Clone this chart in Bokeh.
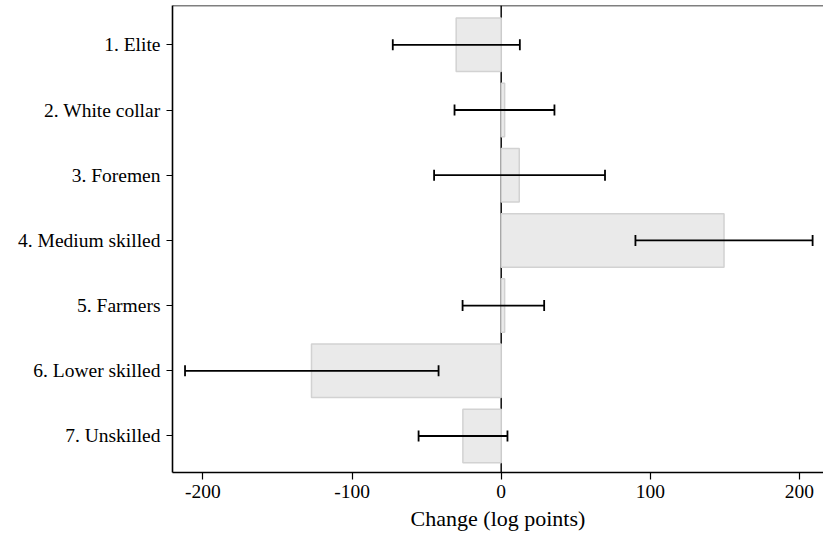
from bokeh.plotting import figure
from bokeh.models import ColumnDataSource, Range1d, FixedTicker, Span, Whisker, TeeHead
from bokeh.embed import file_html
from bokeh.resources import INLINE

categories = ["1. Elite", "2. White collar", "3. Foremen", "4. Medium skilled",
              "5. Farmers", "6. Lower skilled", "7. Unskilled"]
change = [-30.2, 2.3, 12.1, 149.4, 2.3, -127.2, -25.7]
ci_low = [-72.7, -31.3, -45.0, 90.0, -25.9, -212.0, -55.4]
ci_high = [12.5, 35.7, 69.6, 208.8, 28.8, -42.0, 4.2]
x_ticks = [-200, -100, 0, 100, 200]

ypos = list(range(1, len(categories) + 1))
src = ColumnDataSource(dict(y=ypos, change=change, lo=ci_low, hi=ci_high))

FONT = "Liberation Serif"
y_top = 0.397

p = figure(frame_width=651, frame_height=467, output_backend="svg", toolbar_location=None,
           x_range=Range1d(-220.4, 216.1), y_range=Range1d(7.56, y_top),
           min_border_left=172, min_border_right=0, min_border_top=5, min_border_bottom=66)
p.outline_line_color = None
p.background_fill_color = "white"
p.border_fill_color = "white"
p.xgrid.visible = False
p.ygrid.visible = False

p.add_layout(Span(location=0, dimension="height", line_color="#1a1a1a", line_width=1.6, level="underlay"))
p.add_layout(Span(location=y_top, dimension="width", line_color="black", line_width=1.6))

p.hbar(y="y", left=0, right="change", height=0.82, source=src,
       fill_color="#EAEAEA", line_color="#D2D2D2", line_width=1.5)

w = Whisker(source=src, base="y", lower="lo", upper="hi", dimension="width",
            line_color="black", line_width=1.8, level="overlay",
            upper_head=TeeHead(size=11, line_color="black", line_width=1.8),
            lower_head=TeeHead(size=11, line_color="black", line_width=1.8))
p.add_layout(w)

p.xaxis.ticker = FixedTicker(ticks=x_ticks)
p.xaxis.major_label_overrides = {t: str(t) for t in x_ticks}
p.yaxis.ticker = FixedTicker(ticks=ypos)
p.yaxis.major_label_overrides = {i: c for i, c in zip(ypos, categories)}

for ax in (p.xaxis[0], p.yaxis[0]):
    ax.axis_line_color = "black"
    ax.axis_line_width = 1.6
    ax.major_tick_line_color = "black"
    ax.major_tick_line_width = 1.2
    ax.major_tick_in = 0
    ax.minor_tick_line_color = None
    ax.major_label_text_font = FONT
    ax.major_label_text_font_size = "19.5px"
    ax.major_label_text_color = "black"

p.xaxis.major_tick_out = 7
p.yaxis.major_tick_out = 6
p.xaxis.major_label_standoff = 5
p.yaxis.major_label_standoff = 6
p.xaxis.axis_label = "Change (log points)"
p.xaxis.axis_label_text_font = FONT
p.xaxis.axis_label_text_font_size = "22px"
p.xaxis.axis_label_text_font_style = "normal"
p.xaxis.axis_label_text_color = "black"
p.xaxis.axis_label_standoff = 5

open("out.html", "w").write(file_html(p, INLINE))
